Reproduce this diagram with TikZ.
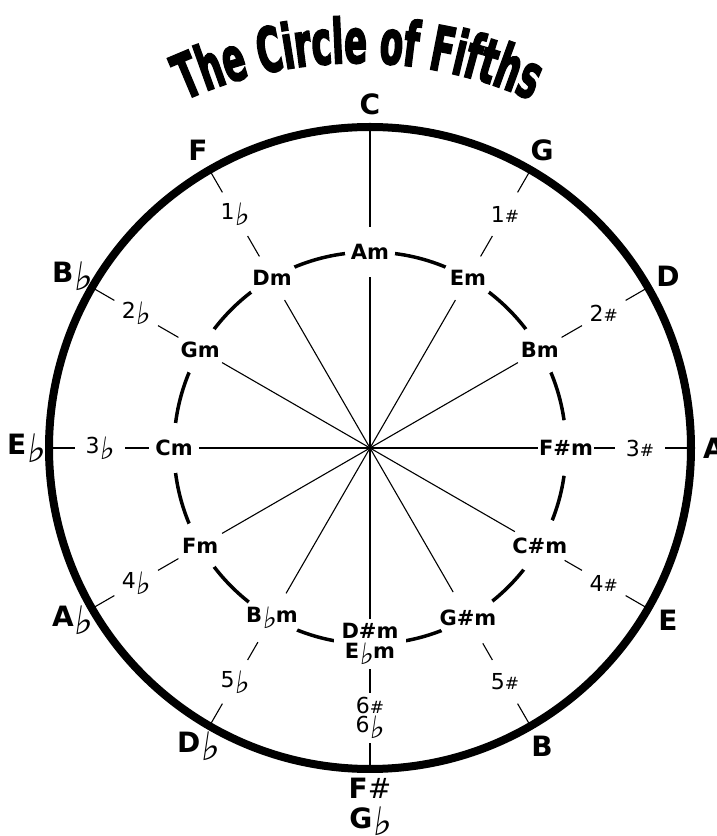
\documentclass[tikz,border=0pt]{standalone}
\usepackage{fontspec}
\setmainfont{DejaVu Sans}
\newfontfamily\symfont{DejaVu Sans}[FakeSlant=0.15]
\newfontfamily\titlefont{DejaVu Sans Condensed Bold}[FakeStretch=0.6,FakeBold=2.5]
\usetikzlibrary{calc,decorations.text}
\newcommand{\flt}{{\symfont\mdseries\raisebox{-0.26em}{\scalebox{1.4}{♭}}}}
\newcommand{\shp}{{\mdseries\#}}
\newcommand{\nshp}{{\fontsize{17pt}{17pt}\selectfont\#}}

\begin{document}
\begin{tikzpicture}[x=1pt,y=1pt,
  ring/.style={line width=8pt},
  minorring/.style={line width=3.5pt},
  spoke/.style={line width=1.1pt},
  keylab/.style={font=\fontsize{28pt}{30pt}\selectfont\bfseries,align=center,inner sep=0pt},
  minorlab/.style={circle,fill=white,inner sep=0pt,minimum size=50pt,align=center,
                   font=\fontsize{21pt}{20pt}\selectfont\bfseries},
  minorpair/.style={minorlab,rectangle,minimum width=72pt,minimum height=50pt},
  numlab/.style={circle,fill=white,inner sep=0pt,minimum size=50pt,align=center,
                 font=\fontsize{22pt}{19pt}\selectfont}]

  \useasboundingbox (0,0) rectangle (716,836);
  \coordinate (o) at (370,388);

  % ---------- title ----------
  \coordinate (tc) at (358,353);
  \path[decorate,decoration={text along path,text align=center,
        text={|\titlefont\fontsize{62pt}{62pt}\selectfont|The Circle of Fifths}}]
    ($(tc)+(120:420)$) arc[start angle=120,end angle=60,radius=420];

  % ---------- rings ----------
  \draw[ring] (o) circle[radius=321];
  \draw[minorring] (o) circle[radius=196];

  % ---------- minor keys ----------
  \foreach \a/\n/\t in {90/am/Am,60/em/Em,30/bm/Bm,0/fsm/{F\#m},-30/csm/{C\#m},
                        -60/gsm/{G\#m},-120/bfm/{B\flt m},-150/fm/Fm,180/cm/Cm,
                        150/gm/Gm,120/dm/Dm}
    \node[minorlab] (\n) at ($(o)+(\a:196)$) {\t};
  \node[minorpair] (dsm) at ($(o)+(-90:196)$) {D\#m\\E\flt m};

  % ---------- key signatures ----------
  \foreach \a/\n/\t in {60/s1/{1\nshp},30/s2/{2\nshp},0/s3/{3\nshp},-30/s4/{4\nshp},
                        -60/s5/{5\nshp},-120/f5/{5\flt},-150/f4/{4\flt},180/f3/{3\flt},
                        150/f2/{2\flt},120/f1/{1\flt}}
    \node[numlab] (\n) at ($(o)+(\a:270)$) {\t};
  \node[numlab] (s6) at ($(o)+(-90:270)$) {6\nshp\\6\flt};

  % ---------- major keys ----------
  \foreach \a/\n/\t in {90/C/C,60/G/G,30/D/D,0/A/A,-30/E/E,-60/B/B,-120/Db/{D\flt},
                        -150/Ab/{A\flt},180/Eb/{E\flt},150/Bb/{B\flt},120/F/F}
  {
    \coordinate (rim\n) at ($(o)+(\a:321)$);
    \node[keylab] (key\n) at ($(o)+(\a:344)$) {\t};
  }
  \coordinate (rimFs) at ($(o)+(-90:321)$);
  \node[keylab,anchor=north] (keyFs) at ($(o)+(-90:330)$) {F\shp\\G\flt};

  % ---------- spokes ----------
  \foreach \m in {am,em,bm,fsm,csm,gsm,dsm,bfm,fm,cm,gm,dm}
    \draw[spoke] (o) -- (\m);
  \draw[spoke] (am) -- (rimC);
  \foreach \m/\n/\k in {em/s1/G,bm/s2/D,fsm/s3/A,csm/s4/E,gsm/s5/B,dsm/s6/Fs,
                        bfm/f5/Db,fm/f4/Ab,cm/f3/Eb,gm/f2/Bb,dm/f1/F}
    \draw[spoke] (\m) -- (\n) -- (rim\k);
\end{tikzpicture}
\end{document}
